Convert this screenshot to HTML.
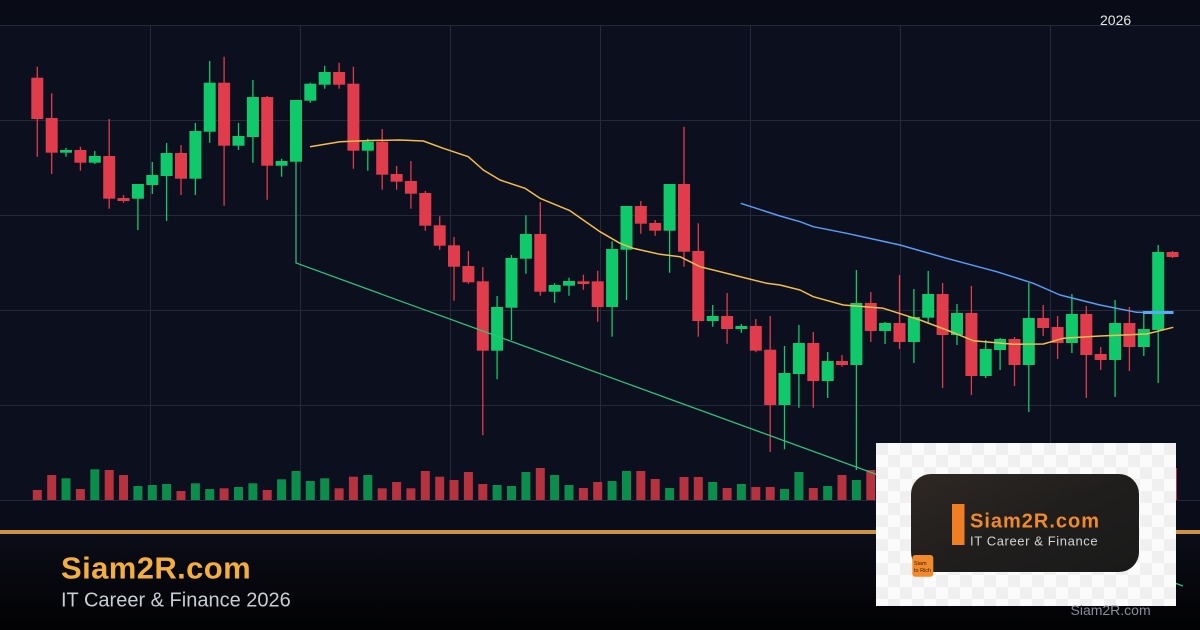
<!DOCTYPE html>
<html>
<head>
<meta charset="utf-8">
<style>
html,body{margin:0;padding:0;background:#090c17;}
body{width:1200px;height:630px;overflow:hidden;}
svg{display:block;}
text{font-family:"Liberation Sans",Arial,sans-serif;}
</style>
</head>
<body>
<svg width="1200" height="630" viewBox="0 0 1200 630" xmlns="http://www.w3.org/2000/svg">
<defs>
<linearGradient id="bot" x1="0" y1="0" x2="0" y2="1">
<stop offset="0" stop-color="#0b0d18"/>
<stop offset="1" stop-color="#020203"/>
</linearGradient>
<linearGradient id="card" x1="0" y1="0" x2="1" y2="1">
<stop offset="0" stop-color="#2e2824"/>
<stop offset="0.5" stop-color="#201e1d"/>
<stop offset="1" stop-color="#1a1a1a"/>
</linearGradient>
<pattern id="chk" x="876" y="443" width="24" height="24" patternUnits="userSpaceOnUse">
<rect width="24" height="24" fill="#fbfbfb"/>
<rect width="12" height="12" fill="#f0f0f0"/>
<rect x="12" y="12" width="12" height="12" fill="#f0f0f0"/>
</pattern>
</defs>

<rect x="0" y="0" width="1200" height="25" fill="#090c17"/>
<rect x="0" y="25" width="1200" height="505" fill="#0b0f1e"/>
<rect x="0" y="500" width="1200" height="30" fill="#0a0d19"/>
<rect x="0" y="534" width="1200" height="96" fill="url(#bot)"/>
<rect x="0" y="530" width="1200" height="4" fill="#cc9442"/>

<g stroke="#242a3a" stroke-width="1">
<line x1="0" y1="25.5" x2="1200" y2="25.5"/>
<line x1="0" y1="120.5" x2="1200" y2="120.5"/>
<line x1="0" y1="215.5" x2="1200" y2="215.5"/>
<line x1="0" y1="310.5" x2="1200" y2="310.5"/>
<line x1="0" y1="405.5" x2="1200" y2="405.5"/>
<line x1="0" y1="500.5" x2="1200" y2="500.5"/>
<line x1="150.5" y1="25" x2="150.5" y2="500"/>
<line x1="300.5" y1="25" x2="300.5" y2="500"/>
<line x1="450.5" y1="25" x2="450.5" y2="500"/>
<line x1="600.5" y1="25" x2="600.5" y2="500"/>
<line x1="750.5" y1="25" x2="750.5" y2="500"/>
<line x1="900.5" y1="25" x2="900.5" y2="500"/>
<line x1="1050.5" y1="25" x2="1050.5" y2="500"/>
</g>

<text x="1100" y="25" font-size="14" fill="#e6e6e6">2026</text>

<g fill="#0b8d4c">
<rect x="61.5" y="478.3" width="9" height="21.7"/>
<rect x="90.3" y="469.3" width="9" height="30.7"/>
<rect x="133.4" y="486" width="9" height="14"/>
<rect x="147.8" y="485" width="9" height="15"/>
<rect x="162.1" y="484" width="9" height="16"/>
<rect x="190.9" y="483.3" width="9" height="16.7"/>
<rect x="205.2" y="489" width="9" height="11"/>
<rect x="234" y="487" width="9" height="13"/>
<rect x="248.4" y="483.3" width="9" height="16.7"/>
<rect x="277.1" y="479.3" width="9" height="20.7"/>
<rect x="291.5" y="471" width="9" height="29"/>
<rect x="305.8" y="481" width="9" height="19"/>
<rect x="320.2" y="478.3" width="9" height="21.7"/>
<rect x="363.3" y="475" width="9" height="25"/>
<rect x="492.6" y="485" width="9" height="15"/>
<rect x="507" y="486" width="9" height="14"/>
<rect x="521.4" y="472" width="9" height="28"/>
<rect x="550.1" y="475" width="9" height="25"/>
<rect x="564.5" y="485" width="9" height="15"/>
<rect x="607.6" y="481" width="9" height="19"/>
<rect x="622" y="471" width="9" height="29"/>
<rect x="665.1" y="488" width="9" height="12"/>
<rect x="708.2" y="482" width="9" height="18"/>
<rect x="736.9" y="484" width="9" height="16"/>
<rect x="780" y="489" width="9" height="11"/>
<rect x="794.4" y="472" width="9" height="28"/>
<rect x="823.2" y="486" width="9" height="14"/>
<rect x="851.9" y="480" width="9" height="20"/>
</g>
<g fill="#b5323e">
<rect x="32.8" y="490" width="9" height="10"/>
<rect x="47.2" y="475" width="9" height="25"/>
<rect x="75.9" y="489" width="9" height="11"/>
<rect x="104.7" y="470" width="9" height="30"/>
<rect x="119" y="475" width="9" height="25"/>
<rect x="176.5" y="491" width="9" height="9"/>
<rect x="219.6" y="488.3" width="9" height="11.7"/>
<rect x="262.7" y="490" width="9" height="10"/>
<rect x="334.6" y="488.3" width="9" height="11.7"/>
<rect x="348.9" y="476.7" width="9" height="23.3"/>
<rect x="377.7" y="488.3" width="9" height="11.7"/>
<rect x="392.1" y="482" width="9" height="18"/>
<rect x="406.4" y="488.3" width="9" height="11.7"/>
<rect x="420.8" y="471" width="9" height="29"/>
<rect x="435.2" y="476.7" width="9" height="23.3"/>
<rect x="449.5" y="480" width="9" height="20"/>
<rect x="463.9" y="472" width="9" height="28"/>
<rect x="478.3" y="484" width="9" height="16"/>
<rect x="535.8" y="468" width="9" height="32"/>
<rect x="578.9" y="488" width="9" height="12"/>
<rect x="593.2" y="482" width="9" height="18"/>
<rect x="636.3" y="471" width="9" height="29"/>
<rect x="650.7" y="479" width="9" height="21"/>
<rect x="679.5" y="477" width="9" height="23"/>
<rect x="693.8" y="477" width="9" height="23"/>
<rect x="722.6" y="488" width="9" height="12"/>
<rect x="751.3" y="487" width="9" height="13"/>
<rect x="765.7" y="487" width="9" height="13"/>
<rect x="808.8" y="488" width="9" height="12"/>
<rect x="837.5" y="475" width="9" height="25"/>
<rect x="866.3" y="470" width="9" height="30"/>
<rect x="1168" y="468" width="9" height="32"/>
</g>

<path fill="none" stroke="#10c96b" stroke-width="1.3" d="M66 147.7V156.7 M94.8 151V164 M137.9 184V230 M152.3 162V194 M166.6 143V221 M195.4 123V195 M209.7 61V142.7 M238.5 123V150 M252.9 80V162.7 M281.6 158.7V176.7 M296 100V165 M310.3 82.7V102.7 M324.7 65.7V88.7 M367.8 138.7V170.7 M497.1 296V379.3 M511.5 255V340 M525.9 215.3V273.7 M554.6 283.3V302.7 M569 277.7V295.7 M612.1 241.3V336.7 M626.5 206V300 M669.6 184V272.7 M712.7 305V326.7 M741.4 324V332.7 M784.5 346V449.3 M798.9 325V407.7 M827.7 352V398 M856.4 270V470 M885.1 322V344 M913.9 289V363 M928.2 271V324 M957 304V345 M985.7 340V378 M1000.1 338V370 M1028.8 283V412 M1071.9 294V353 M1115.1 300V397 M1143.8 314V356 M1158.2 245V383"/>
<path fill="none" stroke="#e03c4b" stroke-width="1.3" d="M37.3 66.7V156.7 M51.7 93.3V174 M80.4 146.7V170.7 M109.2 119V208.7 M123.5 195V202.7 M181 145V195 M224.1 56.7V205.7 M267.2 96V199.7 M339.1 62.7V88.7 M353.4 66.7V168.7 M382.2 129V189.7 M396.6 166V189.7 M410.9 161V208.7 M425.3 191V230.7 M439.7 216.3V249.7 M454 237V300.7 M468.4 251V283.7 M482.8 267V435.3 M540.3 202V295.7 M583.4 274.7V289.7 M597.7 270.7V321.7 M640.8 201V233.7 M655.2 220V235.7 M684 126.7V266.7 M698.3 223.3V336.7 M727.1 293V343.7 M755.8 319V352.3 M770.2 316V452 M813.3 332V407.7 M842 355V366.7 M870.8 292V342 M899.5 275V349 M942.6 283V388 M971.4 286V395 M1014.5 337V386 M1043.2 305V336 M1057.6 316V359 M1086.3 306V398 M1100.7 347V370 M1129.4 307V371 M1172.5 251V258"/>

<g fill="#10c96b">
<rect x="60" y="150" width="12" height="2.7"/>
<rect x="88.8" y="156" width="12" height="6.7"/>
<rect x="131.9" y="184" width="12" height="14.7"/>
<rect x="146.3" y="175" width="12" height="10"/>
<rect x="160.6" y="153" width="12" height="23"/>
<rect x="189.4" y="131" width="12" height="47.7"/>
<rect x="203.7" y="82.7" width="12" height="49"/>
<rect x="232.5" y="136" width="12" height="9.7"/>
<rect x="246.9" y="97" width="12" height="40"/>
<rect x="275.6" y="161" width="12" height="4.7"/>
<rect x="290" y="100" width="12" height="61.7"/>
<rect x="304.3" y="83.7" width="12" height="17"/>
<rect x="318.7" y="72" width="12" height="12.7"/>
<rect x="361.8" y="141.7" width="12" height="9"/>
<rect x="491.1" y="307" width="12" height="43.7"/>
<rect x="505.5" y="258" width="12" height="49.7"/>
<rect x="519.9" y="234" width="12" height="24.7"/>
<rect x="548.6" y="285" width="12" height="6.7"/>
<rect x="563" y="281" width="12" height="4.7"/>
<rect x="606.1" y="249" width="12" height="58"/>
<rect x="620.5" y="206" width="12" height="43.7"/>
<rect x="663.6" y="184" width="12" height="46.7"/>
<rect x="706.7" y="316" width="12" height="5"/>
<rect x="735.4" y="326" width="12" height="3"/>
<rect x="778.5" y="373" width="12" height="32"/>
<rect x="792.9" y="343" width="12" height="31"/>
<rect x="821.7" y="361" width="12" height="20"/>
<rect x="850.4" y="303" width="12" height="62"/>
<rect x="879.1" y="323" width="12" height="8"/>
<rect x="907.9" y="317" width="12" height="25"/>
<rect x="922.2" y="294" width="12" height="23.7"/>
<rect x="951" y="313" width="12" height="22"/>
<rect x="979.7" y="349" width="12" height="27"/>
<rect x="994.1" y="339" width="12" height="11"/>
<rect x="1022.8" y="318" width="12" height="47"/>
<rect x="1065.9" y="314" width="12" height="29"/>
<rect x="1109.1" y="323" width="12" height="37"/>
<rect x="1137.8" y="329" width="12" height="18"/>
<rect x="1152.2" y="252" width="12" height="78"/>
</g>
<g fill="#e03c4b">
<rect x="31.3" y="77.7" width="12" height="41.3"/>
<rect x="45.7" y="118" width="12" height="34.7"/>
<rect x="74.4" y="150" width="12" height="12.7"/>
<rect x="103.2" y="156" width="12" height="42.7"/>
<rect x="117.5" y="198" width="12" height="3"/>
<rect x="175" y="153" width="12" height="25.7"/>
<rect x="218.1" y="82.7" width="12" height="63"/>
<rect x="261.2" y="97" width="12" height="68.7"/>
<rect x="333.1" y="72" width="12" height="12.7"/>
<rect x="347.4" y="83.7" width="12" height="67"/>
<rect x="376.2" y="141.7" width="12" height="33"/>
<rect x="390.6" y="174" width="12" height="7.7"/>
<rect x="404.9" y="181" width="12" height="12.7"/>
<rect x="419.3" y="193" width="12" height="32.7"/>
<rect x="433.7" y="225.3" width="12" height="20.4"/>
<rect x="448" y="245.3" width="12" height="21.4"/>
<rect x="462.4" y="266" width="12" height="16.3"/>
<rect x="476.8" y="281.3" width="12" height="69.4"/>
<rect x="534.3" y="234" width="12" height="57.7"/>
<rect x="577.4" y="281.3" width="12" height="2.7"/>
<rect x="591.7" y="281.3" width="12" height="25.7"/>
<rect x="634.8" y="206" width="12" height="17.7"/>
<rect x="649.2" y="223" width="12" height="7.7"/>
<rect x="678" y="184" width="12" height="67.7"/>
<rect x="692.3" y="251" width="12" height="70"/>
<rect x="721.1" y="316" width="12" height="13"/>
<rect x="749.8" y="326" width="12" height="24.7"/>
<rect x="764.2" y="349.7" width="12" height="55.3"/>
<rect x="807.3" y="343" width="12" height="38"/>
<rect x="836" y="361" width="12" height="4"/>
<rect x="864.8" y="303" width="12" height="28"/>
<rect x="893.5" y="323" width="12" height="19"/>
<rect x="936.6" y="294" width="12" height="41"/>
<rect x="965.4" y="313" width="12" height="63"/>
<rect x="1008.5" y="339" width="12" height="26"/>
<rect x="1037.2" y="318" width="12" height="10"/>
<rect x="1051.6" y="327" width="12" height="16"/>
<rect x="1080.3" y="314" width="12" height="41"/>
<rect x="1094.7" y="354" width="12" height="6"/>
<rect x="1123.4" y="323" width="12" height="24"/>
<rect x="1166.5" y="252" width="12" height="5"/>
</g>

<path fill="none" stroke="#2fc47b" stroke-width="1.2" d="M296 165 V263 L1183 586"/>
<path fill="none" stroke="#f3bd4c" stroke-width="1.5" stroke-linejoin="round" d="M310 146.7 L340 141.7 L370 140.5 L400 140 L423.3 141 L443.3 148.3 L468.3 156.7 L483.3 170 L500 180 L525 188.3 L540 198.3 L570 210.7 L600 231.7 L620 243.3 L633.3 248.3 L660 254.3 L680 256.7 L700 266.7 L733.3 275 L766.7 283.3 L780 285 L800 290 L813.3 296.7 L843.3 305 L883.3 308.3 L920 320 L946.7 330 L973.3 340.7 L1013.3 344.3 L1043.3 344 L1063.3 338.3 L1100 336 L1146.7 334 L1173.3 327.3"/>
<path fill="none" stroke="#5b9cf2" stroke-width="1.5" stroke-linejoin="round" d="M740.7 203.3 L780 216 L800 221.7 L813.3 226.7 L846.7 233.3 L900 245 L946.7 258.3 L996.7 271.7 L1033.3 283.3 L1060 295 L1100 305 L1136.7 312.3 L1173.3 312.7"/>
<path fill="none" stroke="#5aa9f5" stroke-width="3" d="M1143 312.5 L1173.5 312.5"/>

<rect x="876" y="443" width="300" height="163" fill="url(#chk)"/>
<rect x="911" y="474" width="228" height="98" rx="20" ry="20" fill="url(#card)"/>
<rect x="952" y="504" width="12.5" height="41" fill="#ef7f22"/>
<text x="970" y="527.3" font-size="20" font-weight="bold" letter-spacing="1" fill="#f08a2a">Siam2R.com</text>
<text x="970" y="545.3" font-size="13" letter-spacing="0.6" fill="#d4d4d4">IT Career &amp; Finance</text>
<rect x="912.3" y="555" width="21" height="21.7" rx="3" ry="3" fill="#f08a2a"/>
<text x="914" y="565" font-size="5.5" fill="#3a2010">Siam</text>
<text x="914" y="572" font-size="5.5" fill="#3a2010">to Rich</text>

<text x="1070.5" y="615" font-size="14" fill="#8a8d94">Siam2R.com</text>

<text x="61" y="578.3" font-size="31" font-weight="bold" letter-spacing="0.4" fill="#f4ae3e">Siam2R.com</text>
<text x="61" y="606.7" font-size="20" fill="#c9ccd3">IT Career &amp; Finance 2026</text>
</svg>
</body>
</html>
